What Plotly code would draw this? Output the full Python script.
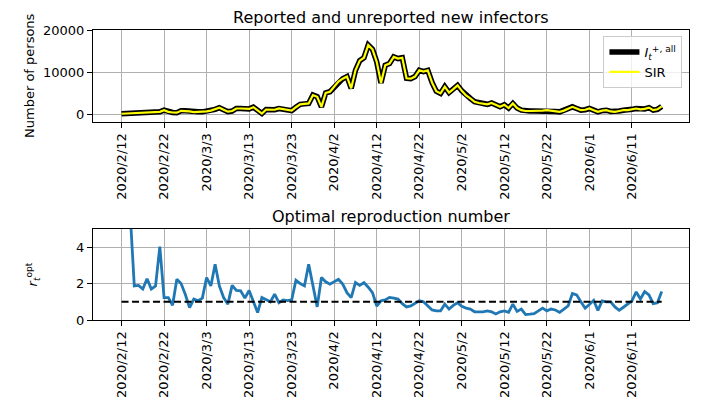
import plotly.graph_objects as go
import pandas as pd

# ---------------- data ----------------
start_date = "2020-02-12"
reported_all = [
    150, 200, 250, 300, 350, 350, 400, 450, 500, 600,
    1000, 600, 450, 400, 850, 850, 700, 550, 600, 600,
    700, 900, 1200, 1600, 1100, 650, 800, 1400, 1400, 1400,
    1300, 1700, 1000, 200, 1150, 1100, 1100, 1400, 1200, 1000,
    900, 1700, 2400, 2500, 2600, 4600, 4200, 1800, 5100, 5400,
    6500, 7800, 8500, 9000, 6200, 10500, 12800, 13500, 16500, 15500,
    12500, 7500, 11700, 12100, 13700, 13300, 13500, 8600, 8500, 9000,
    10500, 10200, 10500, 7600, 5500, 5000, 6600, 5200, 6000, 6900,
    5600, 4500, 3800, 3000, 2700, 2500, 2400, 2700, 2300, 1800,
    2300, 1500, 2600, 1500, 1000, 800, 800, 800, 800, 900,
    1000, 900, 700, 600, 900, 1400, 1800, 1400, 1000, 1100,
    1400, 1000, 600, 900, 1000, 700, 600, 800, 1000, 1000,
    1200, 1400, 1200, 1300, 1600, 1000, 1200, 1900,
]
sir_fit = [
    150, 200, 250, 300, 350, 350, 400, 450, 500, 600,
    1000, 600, 450, 400, 850, 850, 700, 550, 600, 600,
    700, 900, 1200, 1600, 1100, 650, 800, 1400, 1400, 1400,
    1300, 1700, 1000, 200, 1150, 1100, 1100, 1400, 1200, 1000,
    900, 1700, 2400, 2500, 2600, 4600, 4200, 1800, 5100, 5400,
    6500, 7800, 8500, 9000, 6200, 10500, 12800, 13500, 16500, 15500,
    12500, 7500, 11700, 12100, 13700, 13300, 13500, 8600, 8500, 9000,
    10500, 10200, 10500, 7600, 5500, 5000, 6600, 5200, 6000, 6900,
    5600, 4500, 3800, 3000, 2700, 2500, 2400, 2700, 2300, 1800,
    2300, 1500, 2600, 1500, 1000, 800, 800, 800, 800, 900,
    1000, 900, 700, 600, 900, 1400, 1800, 1400, 1000, 1100,
    1400, 1000, 600, 900, 1000, 700, 600, 800, 1000, 1000,
    1200, 1400, 1200, 1300, 1600, 1000, 1200, 1900,
]

r_start_date = "2020-02-14"
r_opt = [
    6.0, 1.87, 1.9, 1.7, 2.27, 1.7, 1.87, 4.03, 1.23, 1.23,
    0.81, 2.24, 2.0, 1.4, 0.68, 1.15, 1.06, 1.2, 2.33, 1.87,
    3.06, 1.87, 1.23, 0.87, 1.9, 1.62, 1.6, 1.2, 1.62, 1.06,
    0.41, 1.23, 1.1, 1.0, 1.42, 0.95, 1.1, 1.06, 1.1, 2.18,
    2.0, 1.87, 3.06, 1.97, 0.72, 2.33, 2.1, 1.97, 2.1, 2.24,
    1.97, 1.5, 1.23, 2.06, 1.9, 2.06, 1.8, 1.5, 0.77, 1.05,
    1.1, 1.24, 1.2, 1.15, 0.9, 0.72, 0.77, 0.9, 1.06, 1.0,
    0.77, 0.55, 0.5, 0.5, 0.87, 0.6, 0.8, 0.95, 0.75, 0.65,
    0.6, 0.45, 0.45, 0.45, 0.5, 0.45, 0.33, 0.45, 0.5, 0.42,
    0.87, 0.47, 0.6, 0.3, 0.32, 0.35, 0.5, 0.65, 0.5, 0.6,
    0.55, 0.42, 0.6, 0.77, 1.45, 1.38, 1.0, 0.65, 0.85, 1.08,
    0.53, 1.05, 1.0, 1.0, 0.72, 0.53, 0.7, 0.9, 1.05, 1.54,
    1.15, 1.56, 1.38, 0.9, 0.95, 1.56,
]

baseline_dates = ["2020-02-12", "2020-06-18"]
baseline_values = [1, 1]

tick_dates = ["2020-02-12", "2020-02-22", "2020-03-03", "2020-03-13", "2020-03-23",
              "2020-04-02", "2020-04-12", "2020-04-22", "2020-05-02", "2020-05-12",
              "2020-05-22", "2020-06-01", "2020-06-11"]
tick_labels = ["2020/2/12", "2020/2/22", "2020/3/3", "2020/3/13", "2020/3/23",
               "2020/4/2", "2020/4/12", "2020/4/22", "2020/5/2", "2020/5/12",
               "2020/5/22", "2020/6/1", "2020/6/11"]

top_yticks = [0, 10000, 20000]
bottom_yticks = [0, 2, 4]

# ---------------- figure ----------------
dates = pd.date_range(start_date, periods=len(reported_all))
r_dates = pd.date_range(r_start_date, periods=len(r_opt))

FONT = "DejaVu Sans"
TICK_SIZE = 13
fig = go.Figure()

fig.add_trace(go.Scatter(x=dates, y=reported_all, mode="lines",
                         line=dict(color="black", width=5.5),
                         name="<i>I</i><sub><i>t</i></sub><sup>+, all</sup>",
                         xaxis="x", yaxis="y"))
fig.add_trace(go.Scatter(x=dates, y=sir_fit, mode="lines",
                         line=dict(color="#ffff00", width=2.2),
                         name="SIR", xaxis="x", yaxis="y"))
fig.add_trace(go.Scatter(x=r_dates, y=r_opt, mode="lines",
                         line=dict(color="#1f77b4", width=2.8),
                         showlegend=False, xaxis="x2", yaxis="y2"))
fig.add_trace(go.Scatter(x=baseline_dates, y=baseline_values, mode="lines",
                         line=dict(color="black", width=2, dash="7px,3.5px"),
                         showlegend=False, xaxis="x2", yaxis="y2"))

xrange = ["2020-02-05 07:00", "2020-06-24 10:00"]
common_x = dict(range=xrange, type="date", tickmode="array",
                tickvals=tick_dates, ticktext=tick_labels, tickangle=-90,
                showgrid=True, gridcolor="#b0b0b0", gridwidth=1.1,
                showline=True, linecolor="black", linewidth=1.1, mirror=True,
                ticks="outside", ticklen=5, tickwidth=1.1, tickcolor="black",
                tickfont=dict(family=FONT, size=TICK_SIZE, color="black"),
                zeroline=False)
common_y = dict(showgrid=True, gridcolor="#b0b0b0", gridwidth=1.1,
                showline=True, linecolor="black", linewidth=1.1, mirror=True,
                ticks="outside", ticklen=5, tickwidth=1.1, tickcolor="black",
                tickfont=dict(family=FONT, size=TICK_SIZE, color="black"),
                zeroline=False, tickmode="array")

top_dom = [0.683, 1.0]
bot_dom = [0.0, 0.314]

fig.update_layout(
    width=710, height=408,
    margin=dict(l=85, r=29, t=22, b=96),
    paper_bgcolor="white", plot_bgcolor="white",
    font=dict(family=FONT, size=TICK_SIZE, color="black"),
    xaxis=dict(domain=[0, 1], anchor="y", **common_x),
    yaxis=dict(domain=top_dom, anchor="x", range=[-1800, 20100],
               tickvals=top_yticks, ticktext=[str(v) for v in top_yticks], **common_y),
    xaxis2=dict(domain=[0, 1], anchor="y2", **common_x),
    yaxis2=dict(domain=bot_dom, anchor="x2", range=[0, 5],
                tickvals=bottom_yticks, ticktext=[str(v) for v in bottom_yticks], **common_y),
    showlegend=True,
    legend=dict(x=0.989, y=0.979, xanchor="right", yanchor="top",
                bgcolor="rgba(255,255,255,0.8)", bordercolor="#cccccc", borderwidth=1,
                font=dict(family=FONT, size=TICK_SIZE, color="black"),
                tracegroupgap=0),
    annotations=[
        dict(text="Reported and unreported new infectors", xref="paper", yref="paper",
             x=0.5, y=top_dom[1], xanchor="center", yanchor="bottom", yshift=1,
             showarrow=False, font=dict(family=FONT, size=16, color="black")),
        dict(text="Optimal reproduction number", xref="paper", yref="paper",
             x=0.5, y=bot_dom[1], xanchor="center", yanchor="bottom", yshift=1,
             showarrow=False, font=dict(family=FONT, size=16, color="black")),
        dict(text="Number of persons", xref="paper", yref="paper",
             x=0, y=(top_dom[0] + top_dom[1]) / 2, xanchor="center", yanchor="middle",
             xshift=-63, textangle=-90, showarrow=False,
             font=dict(family=FONT, size=TICK_SIZE, color="black")),
        dict(text="<i>r</i><sub><i>t</i></sub><sup>opt</sup>", xref="paper", yref="paper",
             x=0, y=(bot_dom[0] + bot_dom[1]) / 2, xanchor="center", yanchor="middle",
             xshift=-60, textangle=-90, showarrow=False,
             font=dict(family=FONT, size=TICK_SIZE, color="black")),
    ],
)

fig.write_html("out.html")
